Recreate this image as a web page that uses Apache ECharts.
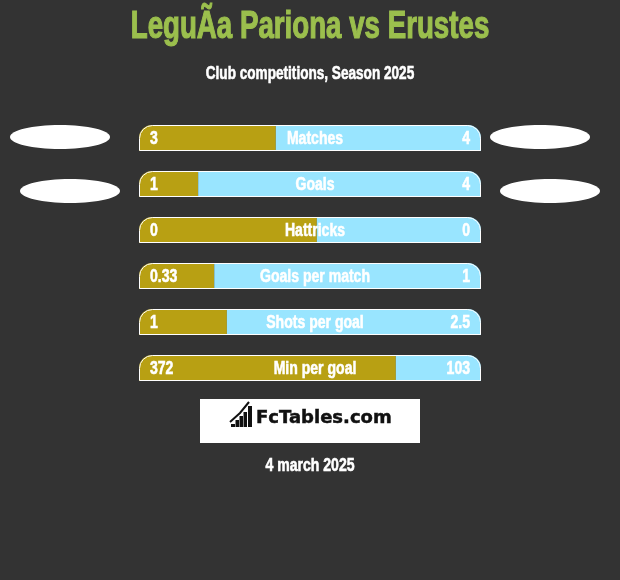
<!DOCTYPE html>
<html>
<head>
<meta charset="utf-8">
<style>html,body{margin:0;padding:0;background:#333333}#c{width:620px;height:580px}</style>
<script src="https://cdn.jsdelivr.net/npm/echarts@6/dist/echarts.min.js"></script>
</head>
<body>
<div id="c"></div>
<script>
const titleText = 'LeguÃa Pariona vs Erustes';
const subtitleText = 'Club competitions, Season 2025';
const dateText = '4 march 2025';
const logoText = 'FcTables.com';
const categories = ['Matches','Goals','Hattricks','Goals per match','Shots per goal','Min per goal'];
const leftLabels = ['3','1','0','0.33','1','372'];
const rightLabels = ['4','4','0','1','2.5','103'];
const leftShare = [40.0,17.3,52.0,22.0,25.7,75.1];
const rightShare = [60.0,82.7,48.0,78.0,74.3,24.9];
const fullWidth = [100,100,100,100,100,100];

const F = '"Liberation Sans",sans-serif';
const chart = echarts.init(document.getElementById('c'), null, {renderer:'canvas'});
const ell = (cx,cy)=>({type:'ellipse',shape:{cx,cy,rx:50,ry:12},style:{fill:'#ffffff'},silent:true});
const logoBars = [[231,424,4,3],[235.5,420,3.5,7],[239.5,416,3.5,11],[243.5,412,3.5,15],[248,406,4,21]];
const condensed = (x,y,text,align)=>({
  type:'text',x,y,scaleX:0.78,
  style:{text,fill:'#fff',stroke:'#fff',lineWidth:0.6,font:'bold 18px '+F,textAlign:align,textVerticalAlign:'middle',
    shadowColor:'rgba(0,0,0,0.45)',shadowBlur:1.5,shadowOffsetX:1.5,shadowOffsetY:1}
});

chart.setOption({
  backgroundColor:'#333333',
  animation:false,
  grid:{left:139,top:115,width:342,height:276},
  xAxis:{type:'value',min:0,max:100,show:false},
  yAxis:{type:'category',inverse:true,data:categories,show:false},
  series:[
    {name:'left',type:'bar',stack:'s',barWidth:26,barGap:'-100%',data:leftShare,
     itemStyle:{color:'#b8a013',borderRadius:[13,0,0,0]}},
    {name:'right',type:'bar',stack:'s',barWidth:26,data:rightShare,
     itemStyle:{color:'#99e5ff',borderRadius:[0,13,0,0]}},
    {name:'outline',type:'bar',barWidth:26,data:fullWidth,z:5,
     itemStyle:{color:'rgba(0,0,0,0)',borderColor:'#ffffff',borderWidth:1,borderRadius:[13,13,0,0]}},
    {name:'labels',type:'custom',z:10,clip:false,coordinateSystem:'cartesian2d',
     data:categories.map((c,i)=>[50,i]),
     renderItem:(params,api)=>{
       const i=params.dataIndex;
       const y=api.coord([50,i])[1]+1;
       return {type:'group',children:[
         condensed(api.coord([0,i])[0]+11,y,leftLabels[i],'left'),
         condensed(api.coord([100,i])[0]-11,y,rightLabels[i],'right'),
         condensed(api.coord([50,i])[0]+5,y,categories[i],'center')
       ]};
     }}
  ],
  graphic:[
    {type:'text',x:310,y:27,scaleX:0.71,style:{text:titleText,fill:'#9bbf4d',stroke:'#9bbf4d',lineWidth:1.2,font:'bold 39px '+F,textAlign:'center',textVerticalAlign:'middle'}},
    {type:'text',x:310,y:74,scaleX:0.755,style:{text:subtitleText,fill:'#fff',stroke:'#fff',lineWidth:0.6,font:'bold 18px '+F,textAlign:'center',textVerticalAlign:'middle'}},
    ell(60,137),ell(540,137),ell(70,191),ell(550,191),
    {type:'rect',shape:{x:200,y:399,width:220,height:44},style:{fill:'#fff'},silent:true},
    ...logoBars.map(b=>({type:'rect',shape:{x:b[0],y:b[1],width:b[2],height:b[3]},style:{fill:'#111'},silent:true})),
    {type:'polyline',shape:{points:[[230,422],[240,413],[249,402]]},style:{stroke:'#111',lineWidth:2,fill:'none'},silent:true},
    {type:'text',x:256,y:418,style:{text:logoText,fill:'#111',stroke:'#111',lineWidth:0.5,font:'bold 18px "DejaVu Sans",sans-serif',textAlign:'left',textVerticalAlign:'middle'}},
    {type:'text',x:310,y:466,scaleX:0.78,style:{text:dateText,fill:'#fff',stroke:'#fff',lineWidth:0.6,font:'bold 18px '+F,textAlign:'center',textVerticalAlign:'middle'}}
  ]
});
</script>
</body>
</html>
